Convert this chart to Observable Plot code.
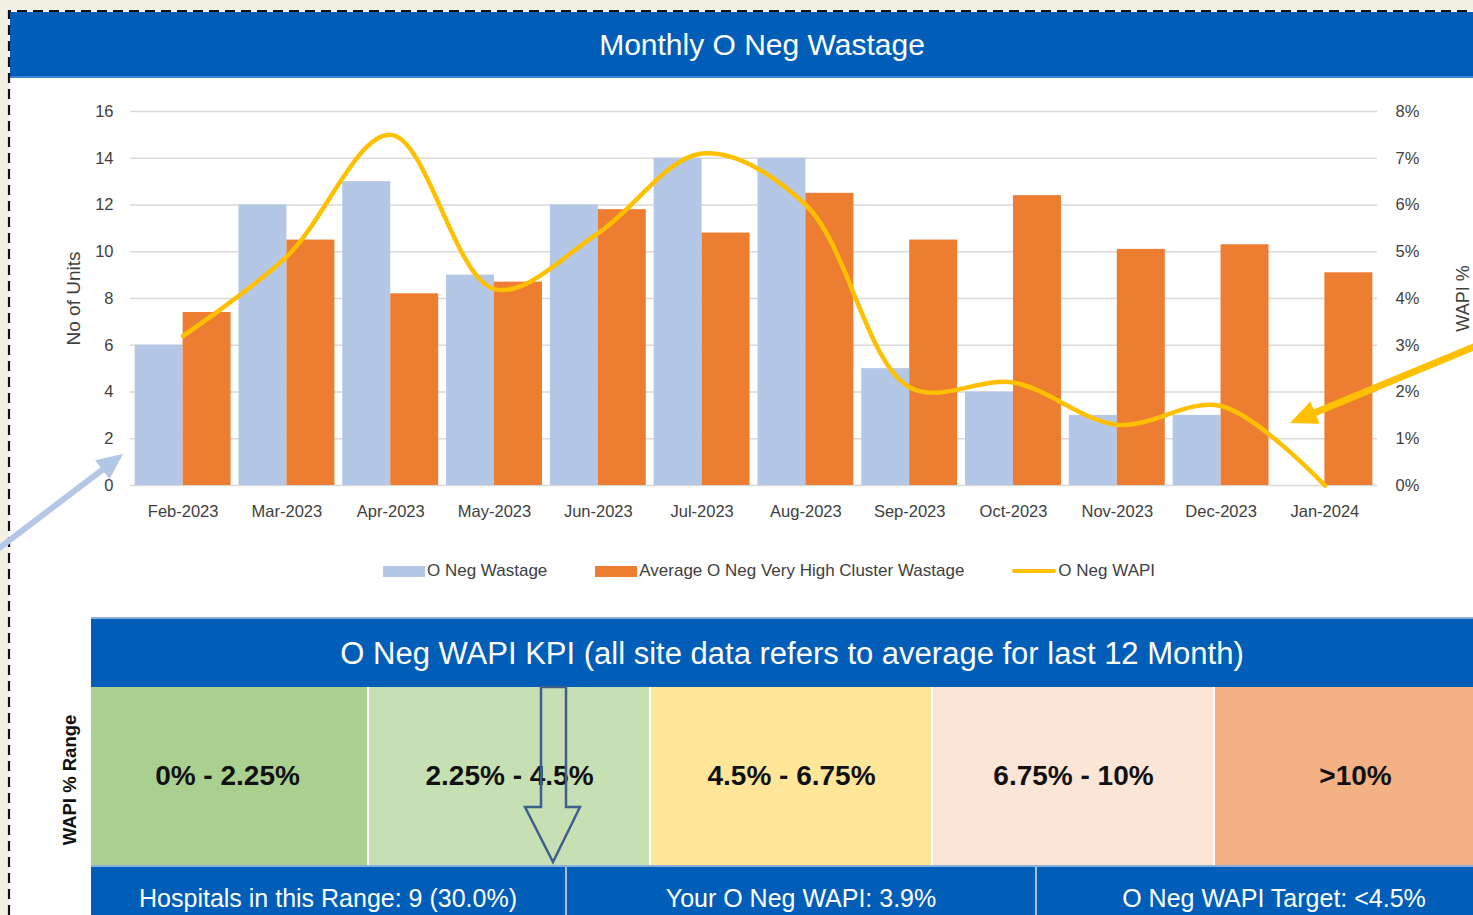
<!DOCTYPE html>
<html>
<head>
<meta charset="utf-8">
<script src="https://cdn.jsdelivr.net/npm/d3@7"></script>
<script src="https://cdn.jsdelivr.net/npm/@observablehq/plot@0.6"></script>
<style>
  html, body { margin:0; padding:0; }
  body { width:1473px; height:915px; overflow:hidden; background:#f3f1e4; position:relative;
         font-family:"Liberation Sans", Arial, sans-serif; }
  #frame { position:absolute; left:9px; top:11px; width:1500px; height:950px; background:#fff; }
  #title { position:absolute; left:10px; top:12px; width:1504px; height:66px; background:#005eb8;
           color:#fff; font-size:30px; line-height:66px; text-align:center; border-bottom:2px solid #3f86d2; box-sizing:border-box; }
  #chart { position:absolute; left:0; top:80px; }
  #legend { position:absolute; left:383px; top:561px; display:flex; gap:48px; font-size:17px; color:#404040; white-space:nowrap; }
  #legend .item { display:flex; align-items:center; }
  #legend .sw { width:42px; height:11px; margin-right:2px; }
  #legend .ln { width:44px; height:4px; margin-right:2px; border-radius:2px; }
  #kpiHead { position:absolute; left:91px; top:617px; width:1402px; height:70px; background:#005eb8; color:#fff;
             font-size:31px; line-height:70px; text-align:center; border-top:2px solid #8aaedc; box-sizing:border-box; }
  #kpiCells { position:absolute; left:91px; top:687px; width:1382px; height:178px; overflow:hidden; }
  #kpiCells svg { margin-left:-5px; display:block; max-width:none !important; }
  #kpiFoot { position:absolute; left:91px; top:865px; width:1420px; height:66px; background:#005eb8; display:flex;
             border-top:2px solid #8aaedc; box-sizing:border-box; }
  #kpiFoot div { color:#fff; font-size:25px; line-height:62px; text-align:center; box-sizing:border-box; }
  #rangeLabel { position:absolute; left:70px; top:780px; transform:translate(-50%,-50%) rotate(-90deg);
                font-weight:bold; font-size:18.5px; color:#111; white-space:nowrap; }
  #overlay { position:absolute; left:0; top:0; pointer-events:none; }
</style>
</head>
<body>
<div id="frame"></div>
<div id="title"></div>
<div id="chart"></div>
<div id="legend"></div>
<div id="rangeLabel"></div>
<div id="kpiHead"></div>
<div id="kpiCells"></div>
<div id="kpiFoot"></div>
<svg id="overlay" width="1473" height="915"></svg>
<script>
// ---------- data ----------
const chartTitle = "Monthly O Neg Wastage";
const months = ["Feb-2023","Mar-2023","Apr-2023","May-2023","Jun-2023","Jul-2023","Aug-2023","Sep-2023","Oct-2023","Nov-2023","Dec-2023","Jan-2024"];
const oNegWastage = [6, 12, 13, 9, 12, 14, 14, 5, 4, 3, 3, 0];
const clusterAvgWastage = [7.4, 10.5, 8.2, 8.7, 11.8, 10.8, 12.5, 10.5, 12.4, 10.1, 10.3, 9.1];
const oNegWapiPct = [3.2, 4.9, 7.5, 4.2, 5.4, 7.1, 6.0, 2.1, 2.2, 1.3, 1.7, 0];
const unitTicks = [0, 2, 4, 6, 8, 10, 12, 14, 16];
const wapiTickLabels = ["0%","1%","2%","3%","4%","5%","6%","7%","8%"];
const seriesNames = ["O Neg Wastage", "Average O Neg Very High Cluster Wastage", "O Neg WAPI"];
const kpiTitle = "O Neg WAPI KPI (all site data refers to average for last 12 Month)";
const wapiRanges = ["0% - 2.25%", "2.25% - 4.5%", "4.5% - 6.75%", "6.75% - 10%", ">10%"];
const wapiRangeColors = ["#a9d08e", "#c6e0b4", "#ffe699", "#fbe5d6", "#f4b183"];
const kpiFooter = ["Hospitals in this Range: 9 (30.0%)", "Your O Neg WAPI: 3.9%", "O Neg WAPI Target: <4.5%"];

// ---------- colours ----------
const BLUE = "#b4c7e7", ORANGE = "#ed7d31", GOLD = "#ffc000";

const rows = months.map((m, i) => ({month: m, wastage: oNegWastage[i], cluster: clusterAvgWastage[i], wapi: oNegWapiPct[i]}));
const unitsPerPct = unitTicks[unitTicks.length - 1] / 8; // left 16 units == right 8 %

document.getElementById("title").textContent = chartTitle;

// ---------- main chart ----------
const W = 1473, H = 460, mL = 130, mR = 96, mT = 31, mB = 55;
const pIn = 0.076, pOut = 0.045;
const step = (W - mL - mR) / (months.length - pIn + 2 * pOut);
const half = step * (1 - pIn) / 2;

const chart = Plot.plot({
  width: W, height: H,
  marginLeft: mL, marginRight: mR, marginTop: mT, marginBottom: mB,
  style: {fontFamily: '"Liberation Sans", Arial, sans-serif', fontSize: "16.5px", color: "#404040", background: "transparent", overflow: "visible"},
  x: {type: "band", domain: months, paddingInner: pIn, paddingOuter: pOut, round: false, axis: null},
  y: {domain: [0, 16], axis: null},
  marks: [
    Plot.gridY(unitTicks, {stroke: "#d9d9d9", strokeOpacity: 1, strokeWidth: 1.6}),
    Plot.barY(rows, {x: "month", y: "wastage", fill: BLUE, insetLeft: 0, insetRight: half}),
    Plot.barY(rows, {x: "month", y: "cluster", fill: ORANGE, insetLeft: half, insetRight: 0}),
    Plot.line(rows, {x: "month", y: d => d.wapi * unitsPerPct, stroke: GOLD, strokeWidth: 4.5, curve: "catmull-rom"}),
    Plot.axisX({tickSize: 0, tickPadding: 20, fontSize: 16.5, label: null}),
    Plot.axisY({ticks: unitTicks, anchor: "left", tickSize: 0, tickPadding: 17, fontSize: 16.5, label: null}),
    Plot.axisY({ticks: unitTicks, anchor: "right", tickSize: 0, tickPadding: 18, fontSize: 16.5, label: null,
                tickFormat: (d) => wapiTickLabels[unitTicks.indexOf(d)]}),
    Plot.text(["No of Units"], {frameAnchor: "left", textAnchor: "middle", dx: -57, rotate: -90, fontSize: 19, fill: "#404040"}),
    Plot.text(["WAPI %"], {frameAnchor: "right", textAnchor: "middle", dx: 86, rotate: -90, fontSize: 18, fill: "#404040"})
  ]
});
document.getElementById("chart").appendChild(chart);

// ---------- legend ----------
const legend = document.getElementById("legend");
[[BLUE, "sw"], [ORANGE, "sw"], [GOLD, "ln"]].forEach(([c, cls], i) => {
  const it = document.createElement("div"); it.className = "item";
  const sw = document.createElement("div"); sw.className = cls; sw.style.background = c;
  const tx = document.createElement("span"); tx.textContent = seriesNames[i];
  it.appendChild(sw); it.appendChild(tx); legend.appendChild(it);
});

// ---------- KPI ----------
document.getElementById("kpiHead").textContent = kpiTitle;
document.getElementById("rangeLabel").textContent = "WAPI % Range";
const kpiRows = wapiRanges.map((r, i) => ({range: r, color: wapiRangeColors[i]}));
const kpi = Plot.plot({
  width: 1410, height: 178, margin: 0,
  style: {fontFamily: '"Liberation Sans", Arial, sans-serif', background: "transparent", maxWidth: "none"},
  x: {type: "band", domain: wapiRanges, padding: 0, round: false, axis: null},
  color: {type: "identity"},
  marks: [
    Plot.cell(kpiRows, {x: "range", fill: "color", insetLeft: 1, insetRight: 1}),
    Plot.text(kpiRows, {x: "range", text: "range", frameAnchor: "middle", fontWeight: "bold", fontSize: 28, fill: "#111"})
  ]
});
document.getElementById("kpiCells").appendChild(kpi);

const foot = document.getElementById("kpiFoot");
const footW = [474, 470, 476];
kpiFooter.forEach((t, i) => {
  const d = document.createElement("div"); d.textContent = t; d.style.width = footW[i] + "px";
  if (i > 0) d.style.borderLeft = "2px solid #a9c0e2";
  foot.appendChild(d);
});

// ---------- annotations (border, arrows) ----------
const ov = d3.select("#overlay");
ov.append("path").attr("d", "M9,915 V11 H1473").attr("fill", "none").attr("stroke", "#111")
  .attr("stroke-width", 2.2).attr("stroke-dasharray", "10 6");

function arrow(x1, y1, x2, y2, color, w, hl, hw) {
  const dx = x2 - x1, dy = y2 - y1, L = Math.hypot(dx, dy), ux = dx / L, uy = dy / L;
  const bx = x2 - ux * hl, by = y2 - uy * hl;
  ov.append("line").attr("x1", x1).attr("y1", y1).attr("x2", bx + ux * 2).attr("y2", by + uy * 2)
    .attr("stroke", color).attr("stroke-width", w);
  ov.append("polygon").attr("fill", color)
    .attr("points", [[x2, y2], [bx - uy * hw / 2, by + ux * hw / 2], [bx + uy * hw / 2, by - ux * hw / 2]].map(p => p.join(",")).join(" "));
}
arrow(-2, 549, 123, 454, BLUE, 6, 26, 24);
arrow(1476, 346, 1290, 423, GOLD, 7, 27, 24);

// hollow down arrow pointing to "Your O Neg WAPI"
ov.append("polygon").attr("fill", "none").attr("stroke", "#3e5f8e").attr("stroke-width", 2.5)
  .attr("points", "541,687 566,687 566,807 580,807 553,862 525,807 541,807");
</script>
</body>
</html>
